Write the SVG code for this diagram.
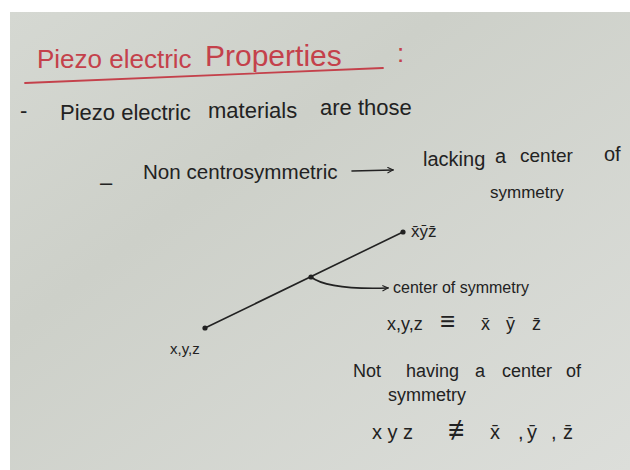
<svg xmlns="http://www.w3.org/2000/svg" width="630" height="470" viewBox="0 0 630 470">
  <defs>
    <linearGradient id="bg" x1="0" y1="0" x2="1" y2="1">
      <stop offset="0" stop-color="#d5d8d2"/>
      <stop offset="0.35" stop-color="#cdd0c9"/>
      <stop offset="1" stop-color="#dcdeda"/>
    </linearGradient>
    <marker id="ah" viewBox="0 0 10 10" refX="9" refY="5" markerWidth="7" markerHeight="7" orient="auto" markerUnits="userSpaceOnUse">
      <path d="M1,1 L9,5 L1,9" fill="none" stroke="#222" stroke-width="1.6"/>
    </marker>
    <style>
      .ink { fill: #222222; font-family: "Liberation Sans", "DejaVu Sans", sans-serif; }
      .red { fill: #c4414b; font-family: "Liberation Sans", "DejaVu Sans", sans-serif; }
      .stroke { stroke: #222222; stroke-width: 1.6; fill: none; stroke-linecap: round; }
      .dot { fill: #222222; }
    </style>
  </defs>

  <rect x="0" y="0" width="630" height="470" fill="#ffffff"/>
  <rect x="10" y="12" width="620" height="458" fill="url(#bg)"/>

  <g id="title">
    <text class="red" x="37" y="68" font-size="26">Piezo electric</text>
    <text class="red" x="205" y="66" font-size="30">Properties</text>
    <text class="red" x="397" y="62" font-size="26">:</text>
    <line x1="25" y1="83" x2="383" y2="68" stroke="#c4414b" stroke-width="1.8" stroke-linecap="round"/>
  </g>

  <g id="line-piezo">
    <text class="ink" x="20" y="118" font-size="22">-</text>
    <text class="ink" x="60" y="120" font-size="22">Piezo electric</text>
    <text class="ink" x="208" y="118" font-size="22">materials</text>
    <text class="ink" x="320" y="115" font-size="22">are those</text>
  </g>

  <g id="line-noncentro">
    <text class="ink" x="100" y="190" font-size="22">–</text>
    <text class="ink" x="143" y="179" font-size="20.6">Non centrosymmetric</text>
    <text class="ink" x="423" y="166" font-size="20">lacking</text>
    <text class="ink" x="495" y="163" font-size="20">a</text>
    <text class="ink" x="520" y="162" font-size="19">center</text>
    <text class="ink" x="604" y="161" font-size="20">of</text>
    <text class="ink" x="490" y="198" font-size="17">symmetry</text>
  </g>

  <g id="point-xyz">
    <circle class="dot" cx="205" cy="328" r="2.6"/>
    <text class="ink" x="170" y="354" font-size="15">x,y,z</text>
  </g>
  <g id="point-center">
    <circle class="dot" cx="311" cy="277" r="2.6"/>
  </g>
  <g id="point-bar">
    <circle class="dot" cx="403" cy="232" r="2.6"/>
    <text class="ink" x="411" y="237" font-size="17">x̄ȳz̄</text>
  </g>

  <g id="center-label">
    <text class="ink" x="393" y="293" font-size="16">center of symmetry</text>
    <text class="ink" y="330" font-size="18"><tspan x="387">x,y,z</tspan><tspan x="440" font-size="26">≡</tspan><tspan x="481">x̄</tspan><tspan x="506">ȳ</tspan><tspan x="532">z̄</tspan></text>
  </g>

  <g id="not-having">
    <text class="ink" y="377" font-size="18"><tspan x="353">Not</tspan><tspan x="406">having</tspan><tspan x="475">a</tspan><tspan x="502">center</tspan><tspan x="566">of</tspan></text>
    <text class="ink" x="388" y="401" font-size="18">symmetry</text>
    <text class="ink" y="439" font-size="20"><tspan x="372">x y z</tspan><tspan x="448" font-size="28">≢</tspan><tspan x="490">x̄</tspan><tspan x="518">,</tspan><tspan x="527">ȳ</tspan><tspan x="551">,</tspan><tspan x="563">z̄</tspan></text>
  </g>

  <g id="connectors">
    <line class="stroke" x1="352" y1="171" x2="393" y2="170" marker-end="url(#ah)"/>
    <line class="stroke" x1="205" y1="328" x2="403" y2="232"/>
    <path class="stroke" d="M311,277 Q328,290 388,288" marker-end="url(#ah)"/>
  </g>
</svg>
